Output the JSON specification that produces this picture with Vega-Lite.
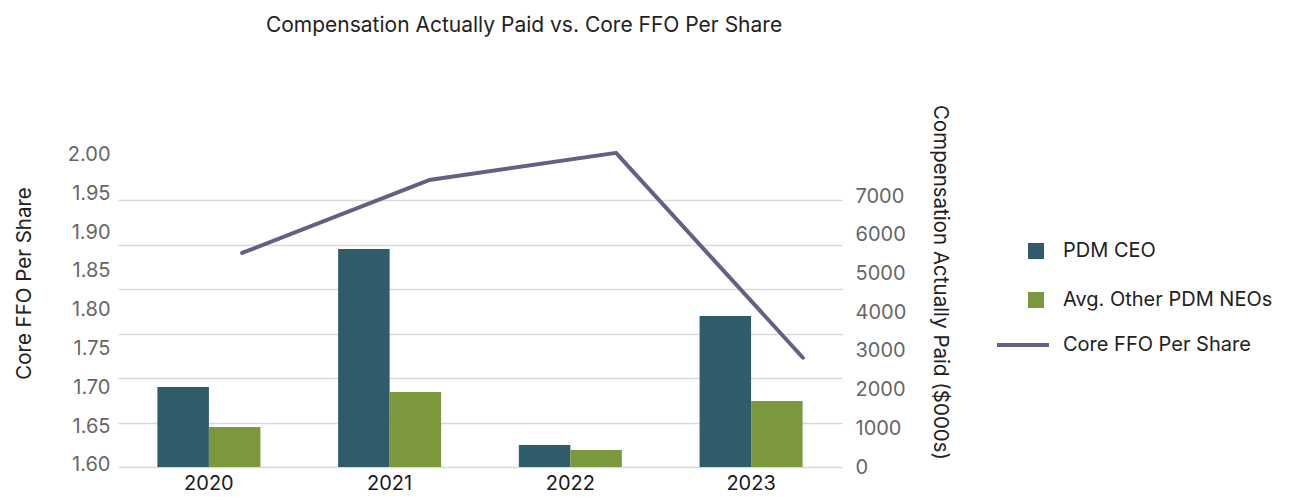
{
  "$schema": "https://vega.github.io/schema/vega-lite/v6.json",
  "width": 724,
  "height": 317,
  "autosize": {"type": "none"},
  "padding": {"left": 118, "top": 150, "right": 455, "bottom": 30},
  "background": "white",
  "config": {"font": "Inter", "view": {"stroke": null}},
  "title": {"text": "Compensation Actually Paid vs. Core FFO Per Share", "fontSize": 21, "fontWeight": "normal", "color": "#222222", "frame": "group", "anchor": "middle", "dx": 44, "dy": -64},
  "datasets": {
    "comp": [
      {"Year": 2020, "Series": "PDM CEO", "Comp": 2067},
      {"Year": 2020, "Series": "Avg. Other PDM NEOs", "Comp": 1034},
      {"Year": 2021, "Series": "PDM CEO", "Comp": 5633},
      {"Year": 2021, "Series": "Avg. Other PDM NEOs", "Comp": 1938},
      {"Year": 2022, "Series": "PDM CEO", "Comp": 568},
      {"Year": 2022, "Series": "Avg. Other PDM NEOs", "Comp": 439},
      {"Year": 2023, "Series": "PDM CEO", "Comp": 3902},
      {"Year": 2023, "Series": "Avg. Other PDM NEOs", "Comp": 1705}
    ],
    "ffo": [
      {"Year": 2020, "FFO": 1.873, "Measure": "Core FFO Per Share"},
      {"Year": 2021, "FFO": 1.967, "Measure": "Core FFO Per Share"},
      {"Year": 2022, "FFO": 2.002, "Measure": "Core FFO Per Share"},
      {"Year": 2023, "FFO": 1.738, "Measure": "Core FFO Per Share"}
    ]
  },
  "layer": [
    {
      "data": {"name": "ffo"},
      "mark": {"type": "point", "opacity": 0},
      "encoding": {
        "y": {"field": "FFO", "type": "quantitative",
          "scale": {"domain": [0, 7.124], "nice": false, "zero": false},
          "axis": {"orient": "left", "values": [0, 1, 2, 3, 4, 5, 6], "grid": true, "gridColor": "#d9d9d9", "gridWidth": 1.5, "labels": false, "ticks": false, "domain": false, "title": null, "minExtent": 0, "maxExtent": 0}}
      }
    },
    {
      "data": {"name": "comp"},
      "mark": {"type": "bar"},
      "encoding": {
        "x": {"field": "Year", "type": "ordinal",
          "scale": {"paddingInner": 0.43, "paddingOuter": 0.218},
          "axis": {"orient": "bottom", "title": null, "labelAngle": 0, "labelFontSize": 20, "labelColor": "#1a1a1a", "ticks": false, "domain": false, "labelPadding": 6, "grid": false}},
        "xOffset": {"field": "Series", "type": "nominal", "scale": {"domain": ["PDM CEO", "Avg. Other PDM NEOs"]}},
        "y": {"field": "Comp", "type": "quantitative",
          "scale": {"domain": [0, 8191], "nice": false},
          "axis": {"orient": "right", "values": [0, 1000, 2000, 3000, 4000, 5000, 6000, 7000], "format": "d", "grid": false, "ticks": false, "domain": false, "labelPadding": 13, "labelFontSize": 20, "labelColor": "#666666",
            "title": "Compensation Actually Paid ($000s)", "titleFontSize": 20.5, "titleFontWeight": "normal", "titleColor": "#222222", "titleAngle": 90, "titleX": 97, "titleY": 132, "titleAlign": "center", "titleBaseline": "middle"}},
        "color": {"field": "Series", "type": "nominal",
          "scale": {"domain": ["PDM CEO", "Avg. Other PDM NEOs"], "range": ["#2f5b6b", "#7c983c"]},
          "legend": {"orient": "none", "legendX": 908, "legendY": 91, "title": null, "symbolType": "square", "symbolSize": 256, "symbolStrokeWidth": 0, "labelFontSize": 20, "labelColor": "#222222", "labelOffset": 17, "labelLimit": 400, "rowPadding": 29, "padding": 0}}
      }
    },
    {
      "data": {"name": "ffo"},
      "mark": {"type": "line", "strokeWidth": 4, "strokeCap": "round", "strokeJoin": "round"},
      "encoding": {
        "x": {"field": "Year", "type": "quantitative", "scale": {"domain": [2019.336, 2023.209], "nice": false, "zero": false}, "axis": null},
        "y": {"field": "FFO", "type": "quantitative",
          "scale": {"domain": [1.5972, 2.0057], "nice": false, "zero": false},
          "axis": {"orient": "left", "values": [1.6, 1.65, 1.7, 1.75, 1.8, 1.85, 1.9, 1.95, 2.0], "format": ".2f", "grid": false, "ticks": false, "domain": false, "labelPadding": 8, "labelFontSize": 20, "labelColor": "#666666",
            "title": "Core FFO Per Share", "titleFontSize": 20.5, "titleFontWeight": "normal", "titleColor": "#222222", "titleAngle": -90, "titleX": -94, "titleY": 133, "titleAlign": "center", "titleBaseline": "middle"}},
        "color": {"field": "Measure", "type": "nominal",
          "scale": {"domain": ["Core FFO Per Share"], "range": ["#675e86"]},
          "legend": {"orient": "none", "legendX": 877, "legendY": 167, "title": null, "symbolType": "stroke", "symbolSize": 2704, "symbolStrokeWidth": 4, "labelFontSize": 20, "labelColor": "#222222", "labelOffset": 12, "labelLimit": 400, "padding": 0}}
      }
    }
  ],
  "resolve": {
    "scale": {"x": "independent", "y": "independent", "color": "independent"},
    "axis": {"x": "independent", "y": "independent"}
  }
}
